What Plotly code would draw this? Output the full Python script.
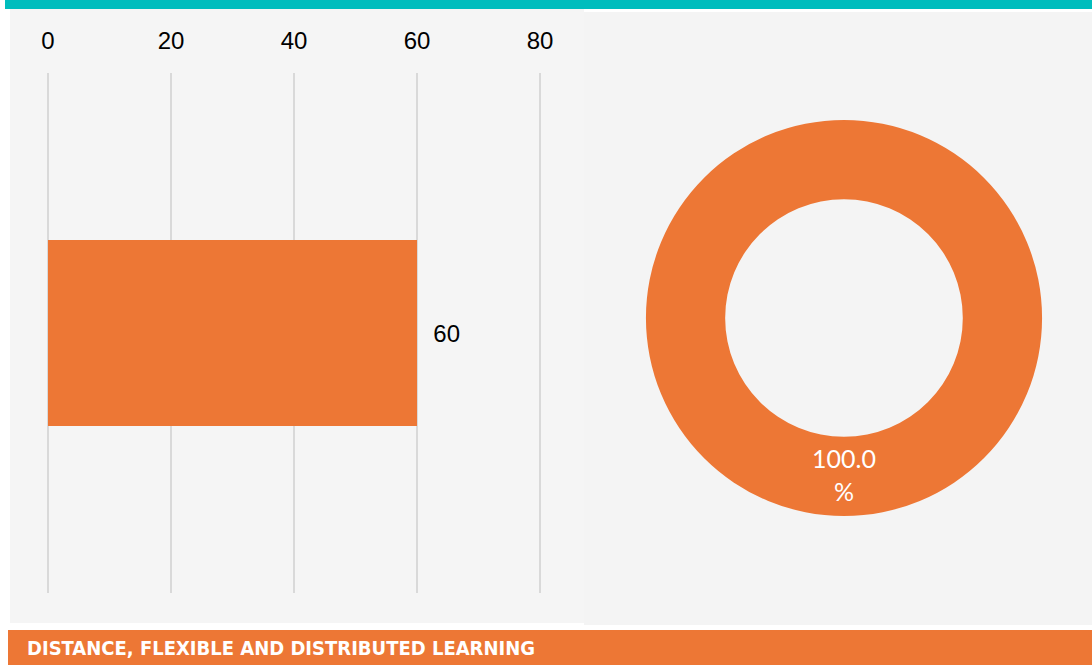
import plotly.graph_objects as go

W, H = 1092, 665

# data
bar_categories = ["Distance, flexible and distributed learning"]
bar_values = [60]
pie_labels = ["Distance, flexible and distributed learning"]
pie_values = [100.0]
tick_vals = [0, 20, 40, 60, 80]
title_text = "DISTANCE, FLEXIBLE AND DISTRIBUTED LEARNING"

ORANGE = "#ED7735"
TEAL = "#00BDBD"
PANEL = "#F5F5F5"


def px_x(v):
    return v / W


def px_y(v):
    return 1 - v / H


fig = go.Figure()

fig.add_trace(go.Bar(
    x=bar_values, y=bar_categories, orientation="h",
    marker=dict(color=ORANGE, line=dict(width=0)),
    texttemplate="\u00a0\u00a0%{x}", textposition="outside",
    textfont=dict(family="Liberation Sans, Arial", size=24, color="#000000"),
    cliponaxis=False, width=0.356,
))

fig.add_trace(go.Pie(
    labels=pie_labels, values=pie_values, hole=0.6, sort=False,
    direction="clockwise", rotation=0,
    marker=dict(colors=[ORANGE], line=dict(width=0)),
    texttemplate="%{value:.1f}<br>%", textposition="inside",
    insidetextorientation="horizontal",
    textfont=dict(family="Lato, Liberation Sans", size=25, color="#FFFFFF"),
    domain=dict(x=[px_x(844 - 198), px_x(844 + 198)],
                y=[px_y(318 + 198), px_y(318 - 198)]),
    showlegend=False, hoverinfo="label+percent",
))

shapes = [
    # top teal band
    dict(type="rect", xref="paper", yref="paper", layer="below",
         x0=px_x(5), x1=1, y0=px_y(9), y1=1,
         fillcolor=TEAL, line=dict(width=0)),
    # left panel
    dict(type="rect", xref="paper", yref="paper", layer="below",
         x0=px_x(10), x1=px_x(584), y0=px_y(623), y1=px_y(9),
         fillcolor=PANEL, line=dict(width=0)),
    # right panel
    dict(type="rect", xref="paper", yref="paper", layer="below",
         x0=px_x(584), x1=1, y0=px_y(625), y1=px_y(12),
         fillcolor="#F4F4F4", line=dict(width=0)),
    # bottom orange band
    dict(type="rect", xref="paper", yref="paper", layer="below",
         x0=px_x(8), x1=1, y0=0, y1=px_y(630),
         fillcolor=ORANGE, line=dict(width=0)),
]

# pad the axis by 2px each side so the 0 and 80 grid lines are drawn
pad = 2 * 80 / 492

fig.update_layout(
    width=W, height=H,
    margin=dict(l=0, r=0, t=0, b=0, autoexpand=False),
    paper_bgcolor="#FFFFFF", plot_bgcolor="rgba(0,0,0,0)",
    showlegend=False, bargap=0,
    shapes=shapes,
    xaxis=dict(
        domain=[px_x(46), px_x(542)], range=[-pad, 80 + pad],
        side="top", tickvals=tick_vals, automargin=False,
        showgrid=True, gridcolor="#D9D9D9", gridwidth=2,
        zeroline=False, showline=False,
        ticks="outside", ticklen=13, tickcolor="rgba(0,0,0,0)",
        tickfont=dict(family="Liberation Sans, Arial", size=24, color="#000000"),
    ),
    yaxis=dict(
        domain=[px_y(593), px_y(73)], automargin=False,
        showticklabels=False, showgrid=False, zeroline=False, showline=False,
    ),
    annotations=[dict(
        text="<b>" + title_text + "</b>", xref="paper", yref="paper",
        x=px_x(25), y=px_y(648), xanchor="left", yanchor="middle",
        showarrow=False,
        font=dict(family="DejaVu Sans Condensed, DejaVu Sans", size=20, color="#FFFFFF"),
    )],
)

fig.write_html(
    "out.html",
    config={"displayModeBar": False},
    post_script="document.body.style.margin='0';document.body.style.overflow='hidden';",
)
